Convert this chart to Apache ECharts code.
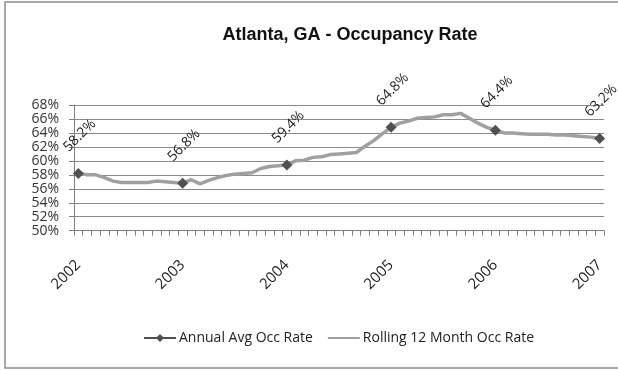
<!DOCTYPE html>
<html>
<head>
<meta charset="utf-8">
<script src="https://cdn.jsdelivr.net/npm/echarts@6/dist/echarts.min.js"></script>
<style>
  html, body { margin: 0; padding: 0; background: #fff; }
  #chart { width: 618px; height: 370px; }
</style>
</head>
<body>
<div id="chart"></div>
<script>
// Years spanned by the monthly axis (January of each year gets a label)
const years = ['2002', '2003', '2004', '2005', '2006', '2007'];

// Annual average occupancy (%), one value per year, placed at January
const annualAvg = [58.2, 56.8, 59.4, 64.8, 64.4, 63.2];

// Rolling 12-month occupancy (%), monthly from Jan 2002 to Jan 2007
const rolling12 = [
  58.3, 58.0, 58.0, 57.6, 57.1, 56.9, 56.9, 56.9, 56.9, 57.1, 57.0, 56.9,
  56.8, 57.3, 56.7, 57.2, 57.6, 57.9, 58.1, 58.2, 58.3, 58.9, 59.2, 59.3,
  59.4, 60.0, 60.1, 60.5, 60.6, 60.9, 61.0, 61.1, 61.2, 62.1, 62.9, 63.9,
  64.8, 65.4, 65.7, 66.1, 66.2, 66.3, 66.6, 66.6, 66.8, 66.1, 65.4, 64.8,
  64.4, 64.0, 64.0, 63.9, 63.8, 63.8, 63.8, 63.7, 63.7, 63.6, 63.5, 63.4,
  63.2
];

// Y-axis range and step (%)
const yMin = 50, yMax = 68, yStep = 2;

// Monthly category keys, e.g. "2002-01"
const categories = [];
years.forEach((y, yi) => {
  const months = yi === years.length - 1 ? 1 : 12;
  for (let m = 1; m <= months; m++) categories.push(y + '-' + String(m).padStart(2, '0'));
});

// Annual values sit on the January of their year; other months are empty
const annualSeries = categories.map(c => {
  const idx = years.indexOf(c.slice(0, 4));
  return c.endsWith('-01') ? annualAvg[idx] : null;
});

const uiFont = '"Open Sans", "Noto Sans", sans-serif';
const chart = echarts.init(document.getElementById('chart'), null, { renderer: 'canvas' });

chart.setOption({
  animation: false,
  backgroundColor: '#ffffff',
  title: {
    text: 'Atlanta, GA - Occupancy Rate',
    left: 345, top: 21,
    textAlign: 'center',
    textStyle: { fontFamily: '"Liberation Sans", Arial, sans-serif', fontSize: 18, fontWeight: 'bold', color: '#111' }
  },
  graphic: [{
    type: 'rect',
    shape: { x: 5, y: 2, width: 640, height: 366 },
    style: { fill: 'none', stroke: '#8c8c8c', lineWidth: 1.5 },
    silent: true
  }],
  legend: {
    left: 143, top: 331, width: 470,
    padding: 0,
    orient: 'horizontal',
    itemWidth: 32, itemHeight: 10, itemGap: 14,
    textStyle: { fontFamily: uiFont, fontSize: 14, color: '#222', padding: [0, 0, 0, -2] },
    data: [
      { name: 'Annual Avg Occ Rate' },
      { name: 'Rolling 12 Month Occ Rate', itemStyle: { opacity: 0 } }
    ]
  },
  grid: { left: 74, right: 14, top: 105, bottom: 139.3, containLabel: false },
  xAxis: {
    type: 'category',
    data: categories,
    boundaryGap: true,
    axisLine: { lineStyle: { color: '#7f7f7f', width: 1 } },
    axisTick: { show: true, interval: 0, length: 5, lineStyle: { color: '#7f7f7f' } },
    axisLabel: {
      interval: (i) => i % 12 === 0,
      formatter: (v) => v.slice(0, 4),
      rotate: 45,
      margin: 32,
      fontFamily: uiFont, fontSize: 15, color: '#222'
    }
  },
  yAxis: {
    type: 'value',
    min: yMin, max: yMax, interval: yStep,
    axisLine: { show: true, lineStyle: { color: '#7f7f7f', width: 1 } },
    axisTick: { show: true, length: 5, lineStyle: { color: '#7f7f7f' } },
    splitLine: { show: true, lineStyle: { color: '#8a8a8a', width: 1 } },
    axisLabel: {
      formatter: '{value}%',
      margin: 15,
      fontFamily: uiFont, fontSize: 14, color: '#333'
    }
  },
  series: [
    {
      name: 'Rolling 12 Month Occ Rate',
      type: 'line',
      data: rolling12,
      showSymbol: false,
      symbol: 'none',
      smooth: false,
      lineStyle: { color: '#a0a0a0', width: 3.5 },
      itemStyle: { color: '#a0a0a0' },
      z: 2
    },
    {
      name: 'Annual Avg Occ Rate',
      type: 'line',
      data: annualSeries,
      connectNulls: false,
      symbol: 'diamond',
      symbolSize: 11,
      showAllSymbol: true,
      lineStyle: { color: '#4f4f4f', width: 2.5 },
      itemStyle: { color: '#505050' },
      label: {
        show: true,
        position: 'top',
        distance: 31,
        rotate: 45,
        align: 'center',
        verticalAlign: 'middle',
        offset: [2, 0],
        formatter: (p) => p.value.toFixed(1) + '%',
        fontFamily: uiFont, fontSize: 14, color: '#222'
      },
      z: 3
    }
  ]
});
</script>
</body>
</html>
